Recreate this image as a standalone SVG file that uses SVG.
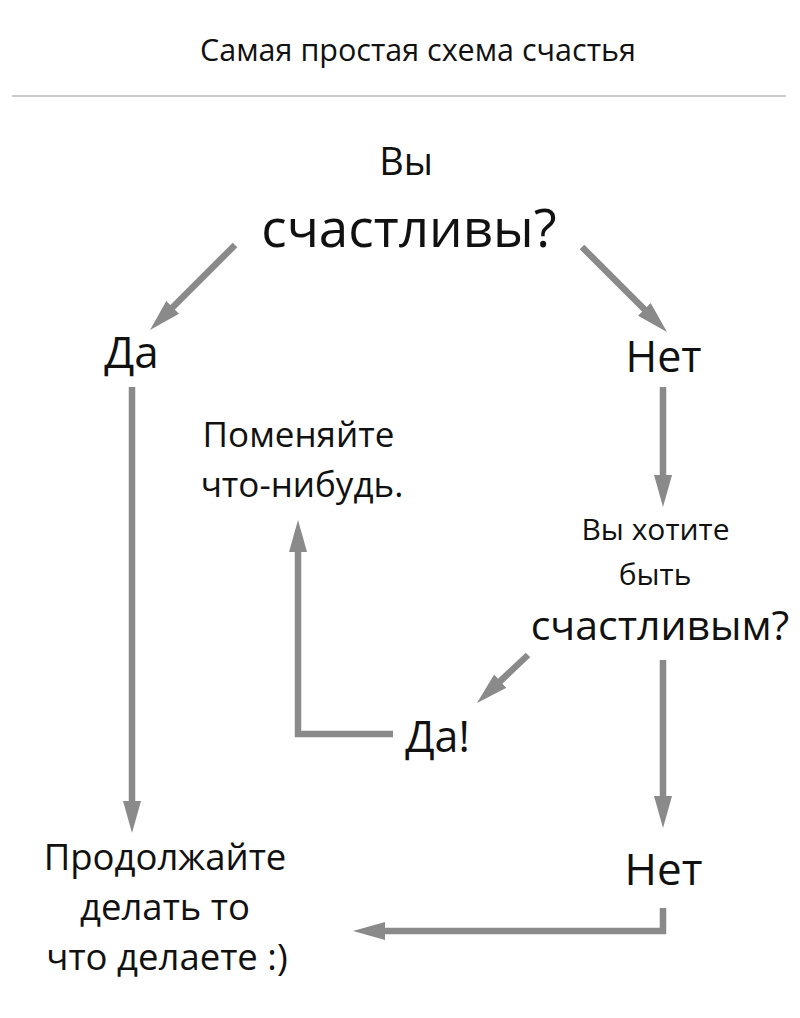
<svg xmlns="http://www.w3.org/2000/svg" width="800" height="1018" viewBox="0 0 800 1018">
<style>
text{font-family:"Open Sans","Noto Sans","DejaVu Sans",sans-serif;fill:#111;text-anchor:middle}
.c{fill:none;stroke:#8a8a8a;stroke-width:6.5;stroke-linejoin:miter}
</style>
<defs>
<marker id="ah" markerUnits="userSpaceOnUse" viewBox="0 0 32 18" refX="7" refY="9" markerWidth="32" markerHeight="18" orient="auto">
<path d="M0,0 L32,9 L0,18 Z" fill="#8a8a8a"/>
</marker>
</defs>
<rect width="800" height="1018" fill="#fff"/>
<g id="title">
<text x="418" y="61" font-size="30.5">Самая простая схема счастья</text>
<line x1="12" y1="96" x2="786" y2="96" stroke="#bbb" stroke-width="1.5"/>
</g>
<g id="n-happy">
<text x="406" y="175" font-size="38">Вы</text>
<text x="409" y="247" font-size="53">счастливы?</text>
</g>
<g id="n-yes1"><text x="131.5" y="368" font-size="44">Да</text></g>
<g id="n-no1"><text x="663.5" y="372" font-size="43">Нет</text></g>
<g id="n-change">
<text x="298.5" y="447" font-size="35">Поменяйте</text>
<text x="302" y="497" font-size="35">что-нибудь.</text>
</g>
<g id="n-want">
<text x="655.5" y="540" font-size="30">Вы хотите</text>
<text x="655" y="585" font-size="30">быть</text>
<text x="660" y="640" font-size="41">счастливым?</text>
</g>
<g id="n-yes2"><text x="437.5" y="752" font-size="43">Да!</text></g>
<g id="n-continue">
<text x="165" y="870" font-size="36.5">Продолжайте</text>
<text x="165" y="920" font-size="36.5">делать то</text>
<text x="167" y="970" font-size="36.5">что делаете :)</text>
</g>
<g id="n-no2"><text x="663.5" y="885" font-size="44">Нет</text></g>
<g id="connectors">
<path class="c" d="M235,245 L167.7,312.3" marker-end="url(#ah)"/>
<path class="c" d="M582,247 L649.3,314.3" marker-end="url(#ah)"/>
<path class="c" d="M663,387 V482" marker-end="url(#ah)"/>
<path class="c" d="M528,655 L495.2,685.9" marker-end="url(#ah)"/>
<path class="c" d="M393,734 H298 V545" marker-end="url(#ah)"/>
<path class="c" d="M132,387 V808" marker-end="url(#ah)"/>
<path class="c" d="M663,660 V803" marker-end="url(#ah)"/>
<path class="c" d="M663,908 V931 H378" marker-end="url(#ah)"/>
</g>
</svg>
